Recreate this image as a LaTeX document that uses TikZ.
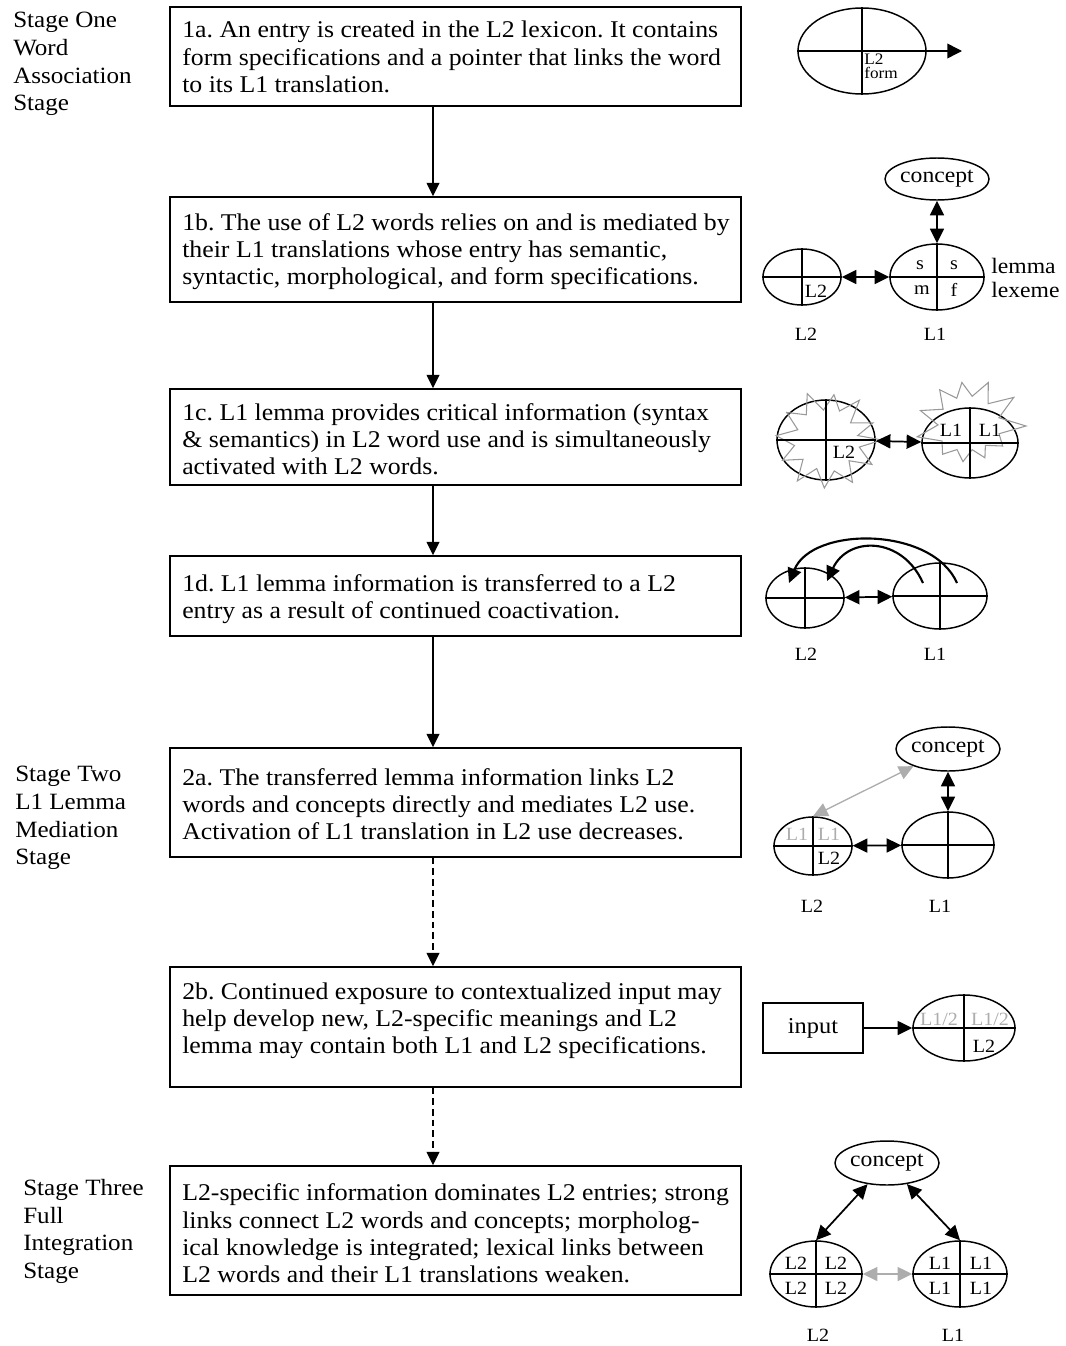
\documentclass[tikz,border=0pt]{standalone}
\usepackage{fontspec}
\setmainfont{Liberation Serif}[FakeStretch=1.075]
\usetikzlibrary{arrows.meta,shapes.geometric}
\definecolor{lightink}{gray}{0.68}
\definecolor{burst}{gray}{0.6}
\frenchspacing
\begin{document}
\begin{tikzpicture}[x=0.75pt,y=-0.75pt,
  stepbox/.style={draw,line width=1.1pt,minimum width=428.25pt,inner sep=0pt},
  body/.style={anchor=west,align=left,inner sep=0pt,font=\fontsize{18}{20.4}\selectfont},
  stagelab/.style={anchor=west,align=left,inner sep=0pt,font=\fontsize{17.5}{20.8}\selectfont},
  flow/.style={line width=1.1pt,-{Triangle[length=10pt,width=9.5pt]}},
  dflow/.style={flow,dash pattern=on 5pt off 3pt},
  ell/.style 2 args={draw,ellipse,line width=1.1pt,inner sep=0pt,minimum width=#1*1.5pt,minimum height=#2*1.5pt},
  quad/.style={inner sep=0pt,font=\fontsize{14}{14}\selectfont},
  gquad/.style={quad,text=lightink},
  lang/.style={inner sep=0pt,font=\fontsize{14}{14}\selectfont},
  conc/.style={font=\fontsize{16.5}{16.5}\selectfont},
  div/.style={line width=1.1pt},
  link/.style={line width=1.3pt,{Triangle[length=11pt,width=10.5pt]}-{Triangle[length=11pt,width=10.5pt]}},
  glink/.style={link,draw=lightink,line width=1pt},
  curv/.style={line width=1.6pt,-{Triangle[length=11pt,width=10.5pt]}},
  burstline/.style={draw=burst,line width=0.8pt}
]
\useasboundingbox (0,0) rectangle (1066,1346);

% ---------- stage labels ----------
\node[stagelab] (s1) at (13,64) {Stage One\\Word\\Association\\Stage};
\node[stagelab] (s2) at (15,818) {Stage Two\\L1 Lemma\\Mediation\\Stage};
\node[stagelab] (s3) at (23,1231.5) {Stage Three\\Full\\Integration\\Stage};

% ---------- step boxes ----------
\node[stepbox,minimum height=74.25pt] (b1a) at (455.5,56.5) {};
\node[stepbox,minimum height=78.75pt] (b1b) at (455.5,249.5) {};
\node[stepbox,minimum height=72pt]    (b1c) at (455.5,437) {};
\node[stepbox,minimum height=60pt]    (b1d) at (455.5,596) {};
\node[stepbox,minimum height=81.75pt] (b2a) at (455.5,802.5) {};
\node[stepbox,minimum height=90pt]    (b2b) at (455.5,1027) {};
\node[stepbox,minimum height=96.75pt] (b3)  at (455.5,1230.5) {};

\node[body] (t1a) at (182,57) {1a. An entry is created in the L2 lexicon. It contains\\form specifications and a pointer that links the word\\to its L1 translation.};
\node[body] (t1b) at (182,251.5) {1b. The use of L2 words relies on and is mediated by\\their L1 translations whose entry has semantic,\\syntactic, morphological, and form specifications.};
\node[body] (t1c) at (182,439) {1c. L1 lemma provides critical information (syntax\\\& semantics) in L2 word use and is simultaneously\\activated with L2 words.};
\node[body] (t1d) at (182,599.5) {1d. L1 lemma information is transferred to a L2\\entry as a result of continued coactivation.};
\node[body] (t2a) at (182,804.5) {2a. The transferred lemma information links L2\\words and concepts directly and mediates L2 use.\\Activation of L1 translation in L2 use decreases.};
\node[body] (t2b) at (182,1020.5) {2b. Continued exposure to contextualized input may\\help develop new, L2-specific meanings and L2\\lemma may contain both L1 and L2 specifications.};
\node[body] (t3) at (182,1233.5) {L2-specific information dominates L2 entries; strong\\links connect L2 words and concepts; morpholog-\\ical knowledge is integrated; lexical links between\\L2 words and their L1 translations weaken.};

% ---------- flow between steps ----------
\coordinate (axis) at (433,0);
\draw[flow]  (b1a.south -| axis) -- (b1b.north -| axis);
\draw[flow]  (b1b.south -| axis) -- (b1c.north -| axis);
\draw[flow]  (b1c.south -| axis) -- (b1d.north -| axis);
\draw[flow]  (b1d.south -| axis) -- (b2a.north -| axis);
\draw[dflow] (b2a.south -| axis) -- (b2b.north -| axis);
\draw[dflow] (b2b.south -| axis) -- (b3.north -| axis);

% ---------- 1a: new L2 entry with pointer ----------
\node[ell={64}{43}] (e1a) at (862,51) {};
\coordinate (p1a) at (962,51);
\draw[div] (e1a.north) -- (e1a.south) (e1a.west) -- (e1a.east);
\draw[flow,-{Triangle[length=11pt,width=11pt]}] (e1a.east) -- (p1a);
\node[anchor=north west,align=left,inner sep=0pt,font=\fontsize{12}{10.5}\selectfont] (f1a) at (864,54) {L2\\form};

% ---------- 1b: mediation through L1 ----------
\node[ell={49}{21},conc] (c1b) at (937,179) {concept};
\node[ell={47}{33}] (l1b) at (937,277) {};
\node[ell={39}{28}] (m1b) at (802,277) {};
\draw[div] (l1b.north) -- (l1b.south) (l1b.west) -- (l1b.east);
\draw[div] (m1b.north) -- (m1b.south) (m1b.west) -- (m1b.east);
\draw[link] (c1b) -- (l1b);
\draw[link] (m1b) -- (l1b);
\node[quad] (q1bs1) at (920,265) {s};
\node[quad] (q1bs2) at (954,265) {s};
\node[quad] (q1bm)  at (922,290) {m};
\node[quad] (q1bf)  at (954,290) {f};
\node[quad] (q1bl2) at (816,291) {L2};
\node[anchor=west,inner sep=0pt,font=\fontsize{16.5}{16.5}\selectfont] (lem) at (991,266) {lemma};
\node[anchor=west,inner sep=0pt,font=\fontsize{16.5}{16.5}\selectfont] (lex) at (991,290) {lexeme};
\node[lang] (g1b2) at (806,334) {L2};
\node[lang] (g1b1) at (935,334) {L1};

% ---------- 1c: coactivation ----------
\node[ell={49}{40}] (m1c) at (826,440) {};
\node[ell={48}{35}] (l1c) at (970,443) {};
\begin{scope}[shift={(826,440)}]
  \draw[burstline] (0:56) -- (12:34) -- (28:52) -- (42:31) -- (58:50) -- (75:32) -- (92:48) -- (108:30) -- (125:50) -- (140:30) -- (155:48) -- (170:32) -- (185:50) -- (200:30) -- (215:48) -- (232:32) -- (248:50) -- (265:30) -- (280:46) -- (295:32) -- (310:52) -- (325:30) -- (340:50) -- (352:32) -- cycle;
\end{scope}
\begin{scope}[shift={(968,426)}]
  \draw[burstline] (0:58) -- (14:32) -- (30:40) -- (48:26) -- (62:36) -- (80:24) -- (98:36) -- (115:26) -- (132:38) -- (150:30) -- (168:52) -- (182:30) -- (198:50) -- (214:30) -- (232:46) -- (248:30) -- (262:44) -- (278:30) -- (295:48) -- (312:30) -- (328:54) -- (345:32) -- cycle;
\end{scope}
\draw[div] (m1c.north) -- (m1c.south) (m1c.west) -- (m1c.east);
\draw[div] (l1c.north) -- (l1c.south) (l1c.west) -- (l1c.east);
\draw[link] (m1c) -- (l1c);
\node[quad] (q1cl2)  at (844,452) {L2};
\node[quad] (q1cl1a) at (951,430) {L1};
\node[quad] (q1cl1b) at (990,430) {L1};

% ---------- 1d: transfer of lemma information ----------
\node[ell={39}{30}] (m1d) at (805,598) {};
\node[ell={47}{33}] (l1d) at (940,596) {};
\draw[div] (m1d.north) -- (m1d.south) (m1d.west) -- (m1d.east);
\draw[div] (l1d.north) -- (l1d.south) (l1d.west) -- (l1d.east);
\draw[link] (m1d) -- (l1d);
\coordinate (ta0) at (923,583);
\coordinate (ta1) at (827,581);
\coordinate (tb0) at (957,583);
\coordinate (tb1) at (789,583);
\draw[curv] (ta0) .. controls (902,536) and (848,536) .. (ta1);
\draw[curv] (tb0) .. controls (932,526) and (812,526) .. (tb1);
\node[lang] (g1d2) at (806,654) {L2};
\node[lang] (g1d1) at (935,654) {L1};

% ---------- 2a: direct links to concepts ----------
\node[ell={48}{22},conc] (c2a) at (948,749) {concept};
\node[ell={46}{33}] (l2a) at (948,845) {};
\node[ell={39}{29}] (m2a) at (813,846) {};
\draw[div] (l2a.north) -- (l2a.south) (l2a.west) -- (l2a.east);
\draw[div] (m2a.north) -- (m2a.south) (m2a.west) -- (m2a.east);
\draw[link] (c2a) -- (l2a);
\draw[link] (m2a) -- (l2a);
\draw[glink] (m2a.north) -- (c2a);
\node[gquad] (q2a1) at (797,834) {L1};
\node[gquad] (q2a2) at (829,834) {L1};
\node[quad]  (q2a3) at (829,858) {L2};
\node[lang] (g2a2) at (812,906) {L2};
\node[lang] (g2a1) at (940,906) {L1};

% ---------- 2b: input shapes L2 meanings ----------
\node[draw,line width=1.1pt,minimum width=75pt,minimum height=37.5pt,inner sep=0pt,font=\fontsize{17}{17}\selectfont] (inp) at (813,1028) {input};
\node[ell={51}{33}] (e2b) at (964,1028) {};
\draw[div] (e2b.north) -- (e2b.south) (e2b.west) -- (e2b.east);
\draw[flow,-{Triangle[length=11pt,width=10.5pt]}] (inp) -- (e2b);
\node[gquad] (q2b1) at (939,1019) {L1/2};
\node[gquad] (q2b2) at (990,1019) {L1/2};
\node[quad]  (q2b3) at (984,1046) {L2};

% ---------- 3: full integration ----------
\node[ell={47}{22},conc] (c3) at (887,1163) {concept};
\node[ell={46}{33}] (m3) at (816,1274) {};
\node[ell={47}{33}] (l3) at (960,1274) {};
\draw[div] (m3.north) -- (m3.south) (m3.west) -- (m3.east);
\draw[div] (l3.north) -- (l3.south) (l3.west) -- (l3.east);
\draw[link] (m3.north) -- (c3);
\draw[link] (l3.north) -- (c3);
\draw[glink] (m3) -- (l3);
\node[quad] (q3a) at (796,1263) {L2};
\node[quad] (q3b) at (836,1263) {L2};
\node[quad] (q3c) at (796,1288) {L2};
\node[quad] (q3d) at (836,1288) {L2};
\node[quad] (q3e) at (940,1263) {L1};
\node[quad] (q3f) at (981,1263) {L1};
\node[quad] (q3g) at (940,1288) {L1};
\node[quad] (q3h) at (981,1288) {L1};
\node[lang] (g32) at (818,1335) {L2};
\node[lang] (g31) at (953,1335) {L1};
\end{tikzpicture}
\end{document}
